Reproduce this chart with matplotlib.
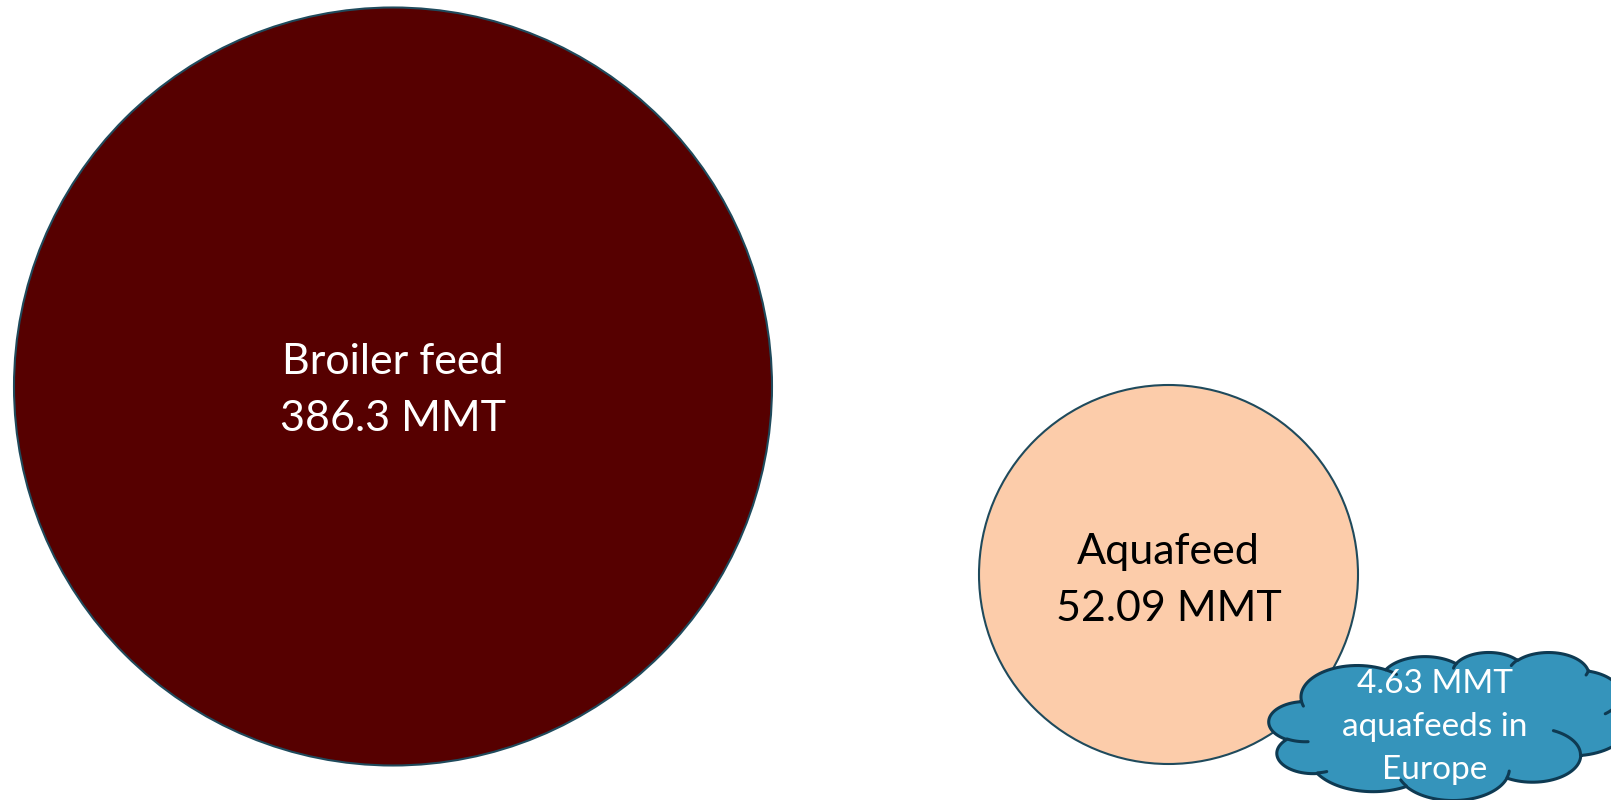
import numpy as np
import matplotlib.pyplot as plt
from matplotlib.patches import Circle, Polygon

plt.rcParams['font.family'] = ['Lato', 'DejaVu Sans']

# feed volumes (million metric tons)
feed_names = ['Broiler feed', 'Aquafeed']
feed_mmt = [386.3, 52.09]
europe_mmt = 4.63
europe_text = 'aquafeeds in\nEurope'

# bubble layout in pixels
centers = [(393, 386.5), (1168.5, 574.5)]
radii = [379, 189.5]
label_dy = [4, 6]
fills = ['#560000', '#FCCCAA']
text_colors = ['white', 'black']
edge = '#1F4A5C'

W, H = 1611, 800
fig = plt.figure(figsize=(W / 100, H / 100), dpi=100)
ax = fig.add_axes([0, 0, 1, 1])
ax.set_xlim(0, W)
ax.set_ylim(H, 0)
ax.set_aspect('equal')
ax.axis('off')

for name, val, c, r, dy, fc, tc in zip(feed_names, feed_mmt, centers, radii, label_dy,
                                       fills, text_colors):
    ax.add_patch(Circle(c, r, facecolor=fc, edgecolor=edge, lw=1.5, zorder=1))
    ax.text(c[0], c[1] + dy, f'{name}\n{val:g} MMT', color=tc, fontsize=31,
            ha='center', va='center', linespacing=1.6, zorder=3)


# cloud callout (DrawingML preset "cloud", 43200 x 43200 path units)
def ell_pt(wr, hr, a):
    t = np.arctan2(wr * np.sin(a), hr * np.cos(a))
    return wr * np.cos(t), hr * np.sin(t)


def arc_to(x, y, wr, hr, st, sw, n=40):
    st = np.deg2rad(st / 60000)
    sw = np.deg2rad(sw / 60000)
    sx, sy = ell_pt(wr, hr, st)
    cx, cy = x - sx, y - sy
    pts = []
    for a in st + sw * np.linspace(0, 1, n):
        px, py = ell_pt(wr, hr, a)
        pts.append((cx + px, cy + py))
    return pts


cloud_arcs = [
    (6753, 9190, -11429249, 7426832),
    (5333, 7267, -8646143, 5396714),
    (4365, 5945, -8748475, 5983381),
    (4857, 6595, -7859164, 7034504),
    (5333, 7273, -4722533, 6541615),
    (6775, 9220, -2776035, 7816140),
    (5785, 7867, 37501, 6842000),
    (6752, 9215, 1347096, 6910353),
    (7720, 10543, 3974558, 4542661),
    (4360, 5918, -16496525, 8804134),
    (4345, 5945, -14809710, 9151131),
]
inner_arcs = [
    ((4693, 26177), (4345, 5945, 5204520, 1585770)),
    ((6928, 34899), (4360, 5918, 4416628, 686848)),
    ((16478, 39090), (6752, 9215, 8257449, 844866)),
    ((28827, 34751), (6752, 9215, 387196, 959901)),
    ((34129, 22954), (5785, 7867, -4217541, 4255042)),
    ((41798, 15354), (5333, 7273, 1819082, 1665090)),
    ((38324, 5426), (4857, 6595, 824660, 891534)),
    ((29078, 3952), (4857, 6595, -8950887, 1091722)),
    ((22141, 4720), (4365, 5945, -9809656, 1061181)),
    ((14000, 5192), (6753, 9190, -4002417, 739161)),
    ((4127, 15789), (6753, 9190, 9459261, 711490)),
]

cloud_box = (1269, 652, 360, 148)  # x0, y0, w, h


def to_px(pts):
    x0, y0, w, h = cloud_box
    p = np.array(pts, dtype=float)
    return np.column_stack([x0 + p[:, 0] * w / 43200, y0 + p[:, 1] * h / 43200])


outline = [(3900, 14370)]
for wr, hr, st, sw in cloud_arcs:
    outline += arc_to(outline[-1][0], outline[-1][1], wr, hr, st, sw)[1:]
cloud_edge = '#0E3A52'
ax.add_patch(Polygon(to_px(outline), closed=True, facecolor='#3594BB',
                     edgecolor=cloud_edge, lw=2.2, joinstyle='round', zorder=4))
for (mx, my), (wr, hr, st, sw) in inner_arcs:
    seg = to_px(arc_to(mx, my, wr, hr, st, sw, n=20))
    ax.plot(seg[:, 0], seg[:, 1], color=cloud_edge, lw=2.2,
            solid_capstyle='round', zorder=5)

ax.text(1435, 727, f'{europe_mmt} MMT\n{europe_text}', color='white', fontsize=24,
        ha='center', va='center', linespacing=1.53, zorder=6)

fig.savefig('out.png', dpi=100)
